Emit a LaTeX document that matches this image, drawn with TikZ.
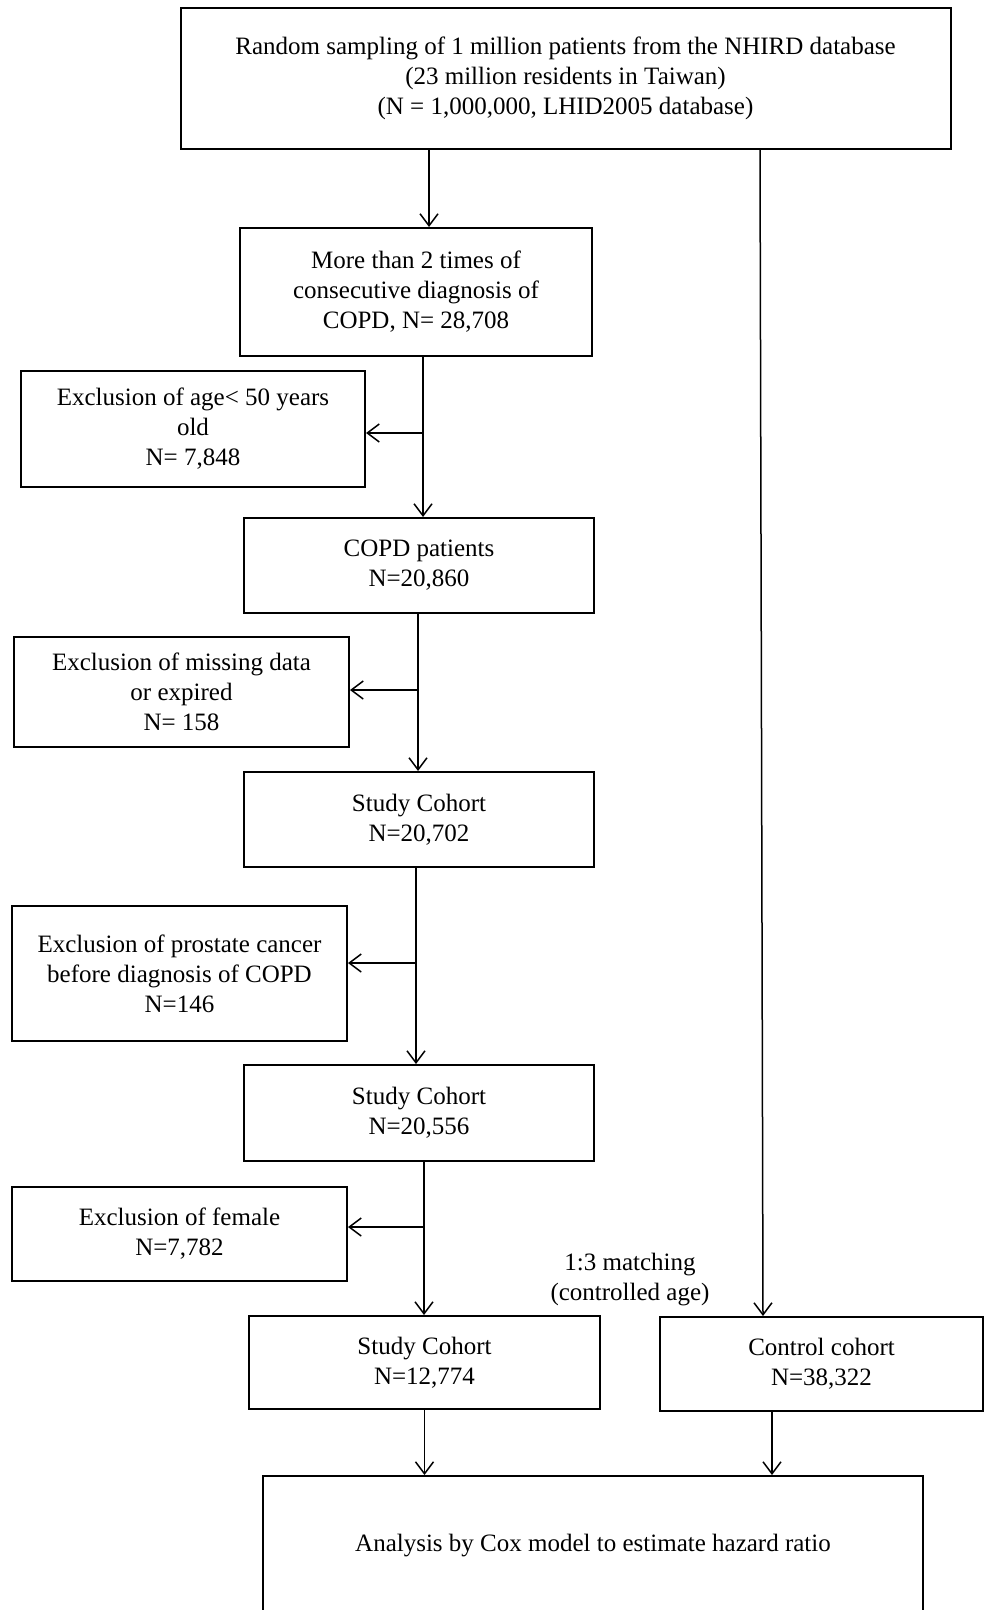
\documentclass[tikz,border=0pt]{standalone}
\usepackage{fontspec}
\setmainfont{Liberation Serif}
\usetikzlibrary{arrows.meta}

\begin{document}
\begin{tikzpicture}[x=0.5pt,y=-0.5pt,->,>={Straight Barb[length=6pt,width=9pt]},line width=0.75pt]
	\tikzstyle{box}=[draw,line width=1pt,rectangle,align=center,inner sep=0pt,font=\fontsize{12.5}{15}\selectfont]
	\tikzstyle{lbl}=[align=center,font=\fontsize{12.5}{15}\selectfont]

	\useasboundingbox (0,0) rectangle (985,1610);

	% main column
	\node[box,minimum width=385pt,minimum height=70.5pt] (top) at (565.5,78.5)
		{Random sampling of 1 million patients from the NHIRD database\\(23 million residents in Taiwan)\\(N = 1,000,000, LHID2005 database)};
	\node[box,minimum width=176pt,minimum height=64pt] (diag) at (416,292)
		{More than 2 times of\\consecutive diagnosis of\\COPD, N= 28,708};
	\node[box,minimum width=175pt,minimum height=47.5pt] (copd) at (419,565.5)
		{COPD patients\\N=20,860};
	\node[box,minimum width=175pt,minimum height=47.5pt] (study-1) at (419,819.5)
		{Study Cohort\\N=20,702};
	\node[box,minimum width=175pt,minimum height=48pt] (study-2) at (419,1113)
		{Study Cohort\\N=20,556};
	\node[box,minimum width=175.5pt,minimum height=46.5pt] (study-3) at (424.5,1362.5)
		{Study Cohort\\N=12,774};
	\node[box,minimum width=161.5pt,minimum height=47pt] (ctrl) at (821.5,1364)
		{Control cohort\\N=38,322};
	\node[box,minimum width=330pt,minimum height=70pt] (cox) at (593,1546)
		{Analysis by Cox model to estimate hazard ratio};

	% exclusions
	\node[box,minimum width=172pt,minimum height=58pt] (excl-age) at (193,429)
		{Exclusion of age< 50 years\\old\\N= 7,848};
	\node[box,minimum width=167.5pt,minimum height=55pt] (excl-miss) at (181.5,692)
		{Exclusion of missing data\\or expired\\N= 158};
	\node[box,minimum width=167.5pt,minimum height=67.5pt] (excl-pca) at (179.5,973.5)
		{Exclusion of prostate cancer\\before diagnosis of COPD\\N=146};
	\node[box,minimum width=167.5pt,minimum height=47pt] (excl-fem) at (179.5,1234)
		{Exclusion of female\\N=7,782};

	\node[lbl] (match) at (630,1280) {1:3 matching\\(controlled age)};

	\coordinate (tap-down) at (760,0);
	\coordinate (tap-cox) at (772,0);

	\draw (top.south -| 429,0) -- (diag.north -| 429,0);
	\draw (diag.south -| 423,0) -- (copd.north -| 423,0);
	\draw (copd.south -| 418,0) -- (study-1.north -| 418,0);
	\draw (study-1.south -| 416,0) -- (study-2.north -| 416,0);
	\draw (study-2.south -| 424,0) -- (study-3.north -| 424,0);

	\foreach \to/\x/\dy in {excl-age/423/-2pt, excl-miss/418/1pt, excl-pca/416/5.25pt, excl-fem/424/3.5pt}
	\draw ([yshift=\dy]\to.east -| \x,0) -- ([yshift=\dy]\to.east);

	\draw (top.south -| tap-down) -- (ctrl.north -| 763,0);
	\draw (study-3.south) -- (cox.north -| study-3.south);
	\draw (ctrl.south -| tap-cox) -- (cox.north -| tap-cox);
\end{tikzpicture}
\end{document}
